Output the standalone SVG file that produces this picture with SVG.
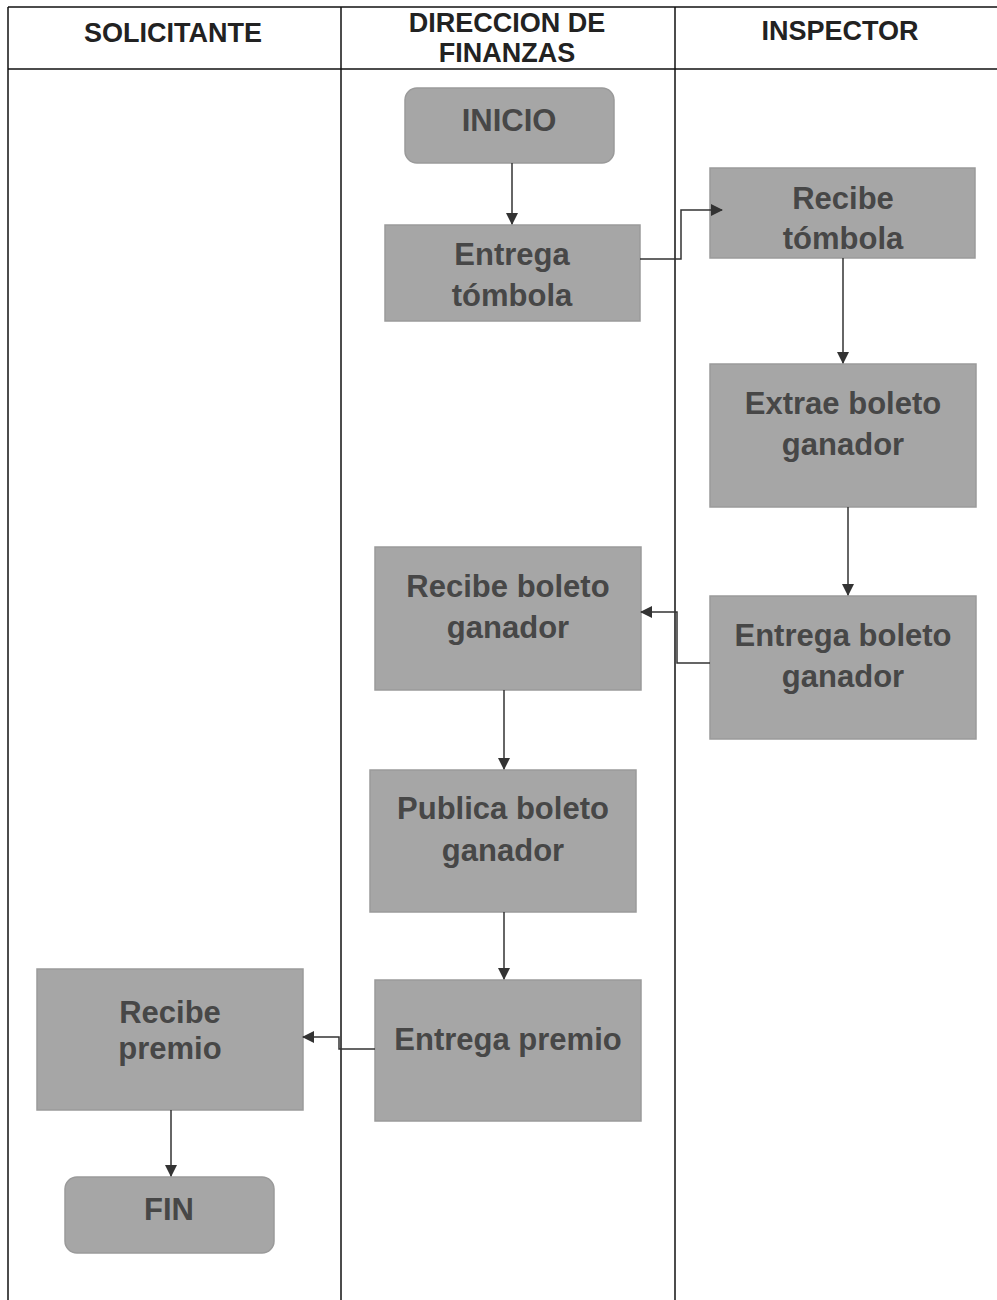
<svg xmlns="http://www.w3.org/2000/svg" width="997" height="1300" viewBox="0 0 997 1300">
<defs>
<marker id="ah" markerWidth="12" markerHeight="12" refX="11" refY="6" orient="auto" markerUnits="userSpaceOnUse">
<path d="M0,0 L12,6 L0,12 z" fill="#333"/>
</marker>
<style>
.lane{stroke:#111;stroke-width:1.5;fill:none}
.hd{font-family:"Liberation Sans",Arial,sans-serif;font-weight:bold;font-size:27px;fill:#222;text-anchor:middle}
.box{fill:#a6a6a6;stroke:#9a9a9a;stroke-width:1.5}
.tx{font-family:"Liberation Sans",Arial,sans-serif;font-weight:bold;font-size:31px;fill:#474747;text-anchor:middle}
.cn{stroke:#333;stroke-width:1.5;fill:none}
</style>
</defs>
<rect width="997" height="1300" fill="#fff"/>
<g id="lanes">
<line class="lane" x1="8" y1="7" x2="997" y2="7"/>
<line class="lane" x1="8" y1="69" x2="997" y2="69"/>
<line class="lane" x1="8" y1="7" x2="8" y2="1300"/>
<line class="lane" x1="341" y1="7" x2="341" y2="1300"/>
<line class="lane" x1="675" y1="7" x2="675" y2="1300"/>
<text class="hd" x="173" y="42">SOLICITANTE</text>
<text class="hd" x="507" y="32">DIRECCION DE</text>
<text class="hd" x="507" y="62">FINANZAS</text>
<text class="hd" x="840" y="40">INSPECTOR</text>
</g>
<g id="inicio">
<rect class="box" x="405" y="88" width="209" height="75" rx="12"/>
<text class="tx" x="509" y="131">INICIO</text>
</g>
<g id="entrega-tombola">
<rect class="box" x="385" y="225" width="255" height="96"/>
<text class="tx" x="512" y="265">Entrega</text>
<text class="tx" x="512" y="306">tómbola</text>
</g>
<g id="recibe-tombola">
<rect class="box" x="710" y="168" width="265" height="90"/>
<text class="tx" x="843" y="209">Recibe</text>
<text class="tx" x="843" y="249">tómbola</text>
</g>
<g id="extrae-boleto">
<rect class="box" x="710" y="364" width="266" height="143"/>
<text class="tx" x="843" y="414">Extrae boleto</text>
<text class="tx" x="843" y="455">ganador</text>
</g>
<g id="recibe-boleto">
<rect class="box" x="375" y="547" width="266" height="143"/>
<text class="tx" x="508" y="597">Recibe boleto</text>
<text class="tx" x="508" y="638">ganador</text>
</g>
<g id="entrega-boleto">
<rect class="box" x="710" y="596" width="266" height="143"/>
<text class="tx" x="843" y="646">Entrega boleto</text>
<text class="tx" x="843" y="687">ganador</text>
</g>
<g id="publica-boleto">
<rect class="box" x="370" y="770" width="266" height="142"/>
<text class="tx" x="503" y="819">Publica boleto</text>
<text class="tx" x="503" y="861">ganador</text>
</g>
<g id="entrega-premio">
<rect class="box" x="375" y="980" width="266" height="141"/>
<text class="tx" x="508" y="1050">Entrega premio</text>
</g>
<g id="recibe-premio">
<rect class="box" x="37" y="969" width="266" height="141"/>
<text class="tx" x="170" y="1023">Recibe</text>
<text class="tx" x="170" y="1059">premio</text>
</g>
<g id="fin">
<rect class="box" x="65" y="1177" width="209" height="76" rx="12"/>
<text class="tx" x="169" y="1220">FIN</text>
</g>
<g id="connectors">
<path class="cn" d="M512,163 V224" marker-end="url(#ah)"/>
<path class="cn" d="M640,259 H681 V210 H722" marker-end="url(#ah)"/>
<path class="cn" d="M843,258 V363" marker-end="url(#ah)"/>
<path class="cn" d="M848,507 V595" marker-end="url(#ah)"/>
<path class="cn" d="M710,663 H677 V612 H641" marker-end="url(#ah)"/>
<path class="cn" d="M504,690 V769" marker-end="url(#ah)"/>
<path class="cn" d="M504,912 V979" marker-end="url(#ah)"/>
<path class="cn" d="M375,1049 H339 V1037 H303" marker-end="url(#ah)"/>
<path class="cn" d="M171,1110 V1176" marker-end="url(#ah)"/>
</g>
</svg>
